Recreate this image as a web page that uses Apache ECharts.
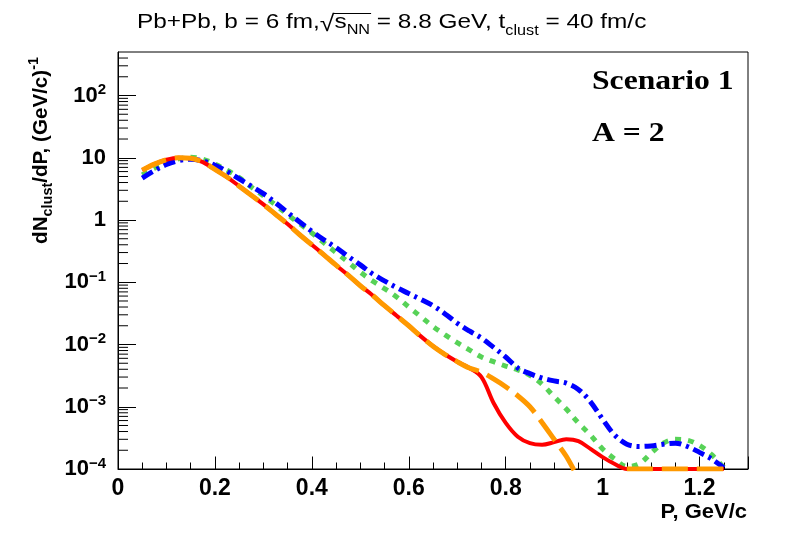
<!DOCTYPE html>
<html>
<head>
<meta charset="utf-8">
<title>dN/dP, Pb+Pb</title>
<script src="https://cdn.jsdelivr.net/npm/echarts@6/dist/echarts.min.js"></script>
<style>
  html, body { margin: 0; padding: 0; background: #fff; }
  #chart { width: 788px; height: 534px; }
</style>
</head>
<body>
<div id="chart"></div>
<script>
// momentum grid, GeV/c
var pX = [0.05, 0.075, 0.1, 0.125, 0.15, 0.175, 0.2, 0.225, 0.25, 0.275,
          0.3, 0.325, 0.35, 0.375, 0.4, 0.425, 0.45, 0.475, 0.5, 0.525,
          0.55, 0.575, 0.6, 0.625, 0.65, 0.675, 0.7, 0.725, 0.75, 0.775,
          0.8, 0.825, 0.85, 0.875, 0.9, 0.925, 0.95, 0.975, 1.0, 1.025,
          1.05, 1.075, 1.1, 1.125, 1.15, 1.175, 1.2, 1.225, 1.25];

// dN/dP values
var redY = [6.3, 7.9, 9.3, 10.0, 9.8, 8.5, 6.5, 4.9, 3.5, 2.5,
            1.78, 1.24, 0.86, 0.58, 0.40, 0.275, 0.188, 0.13, 0.088, 0.062,
            0.042, 0.029, 0.020, 0.0135, 0.0094, 0.0069, 0.0053, 0.0042, 0.0030, 0.00115,
            0.00055, 0.00033, 0.00026, 0.000245, 0.00027, 0.0003, 0.00028, 0.00021, 0.000155, 0.00012,
            0.0001, 0.0001, 0.0001, 0.0001, 0.0001, 0.0001, 0.0001, 0.0001, 0.0001];
var orangeY = [6.3, 7.9, 9.3, 10.0, 9.8, 8.5, 6.5, 4.9, 3.5, 2.5,
               1.78, 1.24, 0.86, 0.58, 0.40, 0.275, 0.188, 0.13, 0.088, 0.062,
               0.042, 0.029, 0.020, 0.0135, 0.0094, 0.0069, 0.0053, 0.0042, 0.0036, 0.0028,
               0.0021, 0.0015, 0.001, 0.00056, 0.0003, 0.00016, 0.00007, null, null, null,
               0.0001, 0.0001, 0.0001, 0.0001, 0.0001, 0.0001, 0.0001, 0.0001, 0.0001];
var greenY = [5.3, 6.8, 8.4, 9.6, 10.2, 9.5, 7.9, 6.3, 4.8, 3.4,
              2.45, 1.75, 1.22, 0.87, 0.62, 0.43, 0.30, 0.21, 0.145, 0.105,
              0.079, 0.058, 0.040, 0.028, 0.0195, 0.0143, 0.0107, 0.0082, 0.0063, 0.0053,
              0.0045, 0.0039, 0.0032, 0.0023, 0.00145, 0.00092, 0.00055, 0.00035, 0.00021, 0.000145,
              0.00011, 0.00012, 0.00018, 0.00026, 0.0003, 0.00029, 0.00024, 0.00017, 0.000105];
var blueY = [4.7, 6.2, 7.8, 9.0, 9.5, 8.9, 7.6, 6.0, 4.6, 3.5,
             2.65, 1.9, 1.32, 0.93, 0.66, 0.48, 0.36, 0.26, 0.19, 0.137,
             0.105, 0.082, 0.066, 0.053, 0.042, 0.031, 0.022, 0.0165, 0.0127, 0.009,
             0.0063, 0.0042, 0.0034, 0.0029, 0.0026, 0.0024, 0.0019, 0.0012, 0.00063, 0.00035,
             0.00025, 0.00023, 0.000235, 0.00025, 0.00026, 0.00023, 0.000185, 0.000145, 0.000105];

// minor ticks of the log axis: 2..9 x 10^k
var yMinorTicks = [];
for (var k = -4; k <= 2; k++) {
  for (var m = 2; m <= 9; m++) {
    var v = m * Math.pow(10, k);
    if (v < 500) yMinorTicks.push(v);
  }
}

var SANS = '"Liberation Sans", Arial, Helvetica, sans-serif';
var SERIF = '"Liberation Serif", "Times New Roman", serif';

var ctx = document.createElement('canvas').getContext('2d');
function textWidth(text, size, weight, family) {
  ctx.font = weight + ' ' + size + 'px ' + family;
  return ctx.measureText(text).width;
}
function rowWidth(pieces, weight, family, sx) {
  var w = 0;
  pieces.forEach(function (p) { w += textWidth(p[0], p[1], weight, family); });
  return w * (sx || 1);
}
// pieces: [text, fontSize, baseline shift]; sx stretches the glyphs horizontally
function textRow(pieces, x0, base, weight, family, sx) {
  sx = sx || 1;
  var x = x0, els = [], pos = [];
  pieces.forEach(function (p) {
    var w = textWidth(p[0], p[1], weight, family) * sx;
    els.push({
      type: 'text', x: x, y: base + p[2] - 0.345 * p[1], scaleX: sx, silent: true,
      style: { text: p[0], font: weight + ' ' + p[1] + 'px ' + family, fill: '#000', align: 'left', verticalAlign: 'middle' }
    });
    pos.push([x, x + w]);
    x += w;
  });
  return { els: els, pos: pos };
}

// title
var titlePieces = [['Pb+Pb, b = 6 fm,', 21, 0], ['\u221A', 23, 3], ['s', 21, 0], ['NN', 14, 5],
                   [' = 8.8 GeV, t', 21, 0], ['clust', 14, 6], [' = 40 fm/c', 21, 0]];
var title = textRow(titlePieces, 137, 29.5, 'normal', SANS, 1.16);
var overline = { type: 'line', silent: true,
  shape: { x1: title.pos[1][1] - 1, y1: 13.5, x2: title.pos[3][1] + 1, y2: 13.5 },
  style: { stroke: '#000', lineWidth: 1.2 } };

// y axis title, rotated, ending at the top of the frame
var yTitlePieces = [['dN', 20, 0], ['clust', 14, 5], ['/dP, (GeV/c)', 20, 0], ['-1', 14, -9]];
var yTitleW = rowWidth(yTitlePieces, 'bold', SANS, 1.03);
var yTitle = { type: 'group', x: 48, y: 57 + yTitleW, rotation: Math.PI / 2,
  children: textRow(yTitlePieces, 0, 0, 'bold', SANS, 1.03).els };

var xTitlePieces = [['P, GeV/c', 20, 0]];
var xTitle = textRow(xTitlePieces, 747 - rowWidth(xTitlePieces, 'bold', SANS, 1.1), 519, 'bold', SANS, 1.1);

var scen = textRow([['Scenario 1', 28, 0]], 592, 91.5, 'bold', SERIF, 1.13);
var aText = textRow([['A = 2', 28, 0]], 592, 143.5, 'bold', SERIF, 1.13);

function curve(name, values, color, width, dash, z) {
  return {
    name: name, type: 'line', z: z, smooth: 0.35, symbol: 'none', showSymbol: false,
    connectNulls: false, silent: true,
    data: pX.map(function (x, i) { return [x, values[i]]; }),
    lineStyle: { color: color, width: width, type: dash, cap: 'butt' }
  };
}

var chart = echarts.init(document.getElementById('chart'));
var option = {
  animation: false,
  backgroundColor: '#fff',
  grid: { left: 118, right: 40, top: 52, bottom: 65, show: true, borderColor: '#000', borderWidth: 1 },
  xAxis: {
    type: 'value', min: 0, max: 1.3, interval: 0.2,
    axisLine: { lineStyle: { color: '#000', width: 1 } },
    axisTick: { inside: true, length: 12.5, lineStyle: { color: '#000' } },
    minorTick: { show: true, splitNumber: 4, length: 6.5, lineStyle: { color: '#000' } },
    splitLine: { show: false },
    axisLabel: { showMaxLabel: false, margin: 8, color: '#000', fontSize: 23, fontWeight: 'bold', fontFamily: SANS }
  },
  yAxis: {
    type: 'log', logBase: 10, min: 0.0001, max: 500, splitNumber: 7,
    axisLine: { show: true, lineStyle: { color: '#000', width: 1 } },
    axisTick: { inside: true, length: 18, lineStyle: { color: '#000' } },
    splitLine: { show: false },
    axisLabel: {
      showMaxLabel: false, margin: 12, color: '#000', fontSize: 22, fontWeight: 'bold', fontFamily: SANS,
      lineHeight: 26,
      formatter: function (v) {
        var e = Math.round(Math.log10(v));
        if (e === 0) return '1';
        if (e === 1) return '10';
        return '10{sup|' + (e < 0 ? '\u2212' + (-e) : e) + '}';
      },
      rich: { sup: { fontSize: 15, fontWeight: 'bold', fontFamily: SANS, color: '#000', verticalAlign: 'top', lineHeight: 14 } }
    }
  },
  series: [
    {
      type: 'custom', silent: true, z: 1, clip: false,
      data: yMinorTicks.map(function (v) { return [0, v]; }),
      renderItem: function (params, api) {
        var p = api.coord([0, api.value(1)]);
        return { type: 'line', shape: { x1: p[0], y1: p[1], x2: p[0] + 10, y2: p[1] },
                 style: { stroke: '#000', lineWidth: 1 } };
      }
    },
    curve('green', greenY, '#57d257', 5, [6, 7], 2),
    curve('blue', blueY, '#0000ff', 5, [12, 5, 3, 5], 3),
    curve('red', redY, '#ff0000', 4, 'solid', 4),
    curve('orange', orangeY, '#ff9900', 5, [26, 9], 5)
  ],
  graphic: [].concat(title.els, [overline, yTitle], xTitle.els, scen.els, aText.els)
};
chart.setOption(option);
</script>
</body>
</html>
